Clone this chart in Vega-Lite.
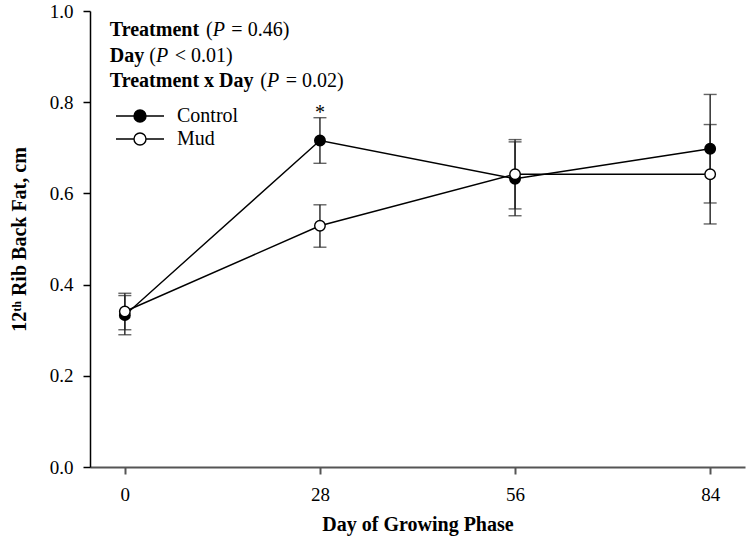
{
  "$schema": "https://vega.github.io/schema/vega-lite/v6.json",
  "width": 655,
  "height": 456,
  "autosize": {"type": "none"},
  "padding": {"left": 90, "top": 11, "right": 3, "bottom": 73},
  "background": "white",
  "config": {
    "view": {"stroke": null},
    "font": "Liberation Serif",
    "text": {"font": "Liberation Serif"},
    "axis": {
      "grid": false,
      "labelFont": "Liberation Serif",
      "labelFontSize": 19,
      "labelColor": "black",
      "titleFont": "Liberation Serif",
      "titleFontSize": 20,
      "titleFontWeight": "bold",
      "titleColor": "black",
      "tickSize": 7,
      "tickWidth": 1.5,
      "domainWidth": 1.5,
      "domainColor": "black",
      "tickColor": "black"
    }
  },
  "datasets": {
    "means": [
      {"group": "Control", "day": 0, "mean": 0.333, "lower": 0.290, "upper": 0.376},
      {"group": "Control", "day": 28, "mean": 0.716, "lower": 0.666, "upper": 0.766},
      {"group": "Control", "day": 56, "mean": 0.632, "lower": 0.551, "upper": 0.713},
      {"group": "Control", "day": 84, "mean": 0.698, "lower": 0.579, "upper": 0.817},
      {"group": "Mud", "day": 0, "mean": 0.341, "lower": 0.301, "upper": 0.381},
      {"group": "Mud", "day": 28, "mean": 0.529, "lower": 0.482, "upper": 0.575},
      {"group": "Mud", "day": 56, "mean": 0.642, "lower": 0.566, "upper": 0.718},
      {"group": "Mud", "day": 84, "mean": 0.642, "lower": 0.533, "upper": 0.751}
    ],
    "sig": [
      {"day": 28, "mean": 0.766, "label": "*"}
    ],
    "notes": [
      {"line": 1, "day": -2.15, "mean": 0.945, "bold": "Treatment", "rest": "= 0.46)"},
      {"line": 2, "day": -2.15, "mean": 0.889, "bold": "Day", "rest": "< 0.01)"},
      {"line": 3, "day": -2.15, "mean": 0.833, "bold": "Treatment x Day", "rest": "= 0.02)"}
    ]
  },
  "layer": [
    {
      "data": {"name": "means"},
      "mark": {
        "type": "errorbar",
        "ticks": {"size": 13, "thickness": 1.4, "color": "#222"},
        "rule": {"strokeWidth": 1.4, "color": "#222"}
      },
      "encoding": {
        "x": {
          "field": "day", "type": "quantitative",
          "scale": {"domain": [-5, 89], "nice": false, "zero": false},
          "axis": {"values": [0, 28, 56, 84], "format": "d", "labelPadding": 11, "domainColor": "#555", "tickColor": "#555", "domainWidth": 2, "tickWidth": 2, "titlePadding": 10},
          "title": "Day of Growing Phase"
        },
        "y": {
          "field": "lower", "type": "quantitative",
          "scale": {"domain": [0, 1], "nice": false},
          "axis": {"values": [0, 0.2, 0.4, 0.6, 0.8, 1.0], "format": ".1f", "labelPadding": 10, "titlePadding": 20},
          "title": "12ᵗʰ Rib Back Fat, cm"
        },
        "y2": {"field": "upper"},
        "detail": {"field": "group"}
      }
    },
    {
      "data": {"name": "means"},
      "mark": {"type": "line", "color": "black", "strokeWidth": 1.4},
      "encoding": {
        "x": {"field": "day", "type": "quantitative", "title": "Day of Growing Phase"},
        "y": {"field": "mean", "type": "quantitative", "title": "12ᵗʰ Rib Back Fat, cm"},
        "detail": {"field": "group"}
      }
    },
    {
      "data": {"name": "means"},
      "mark": {"type": "point", "shape": "circle", "size": 110, "stroke": "black", "strokeWidth": 1.4, "opacity": 1, "fillOpacity": 1},
      "encoding": {
        "x": {"field": "day", "type": "quantitative", "title": "Day of Growing Phase"},
        "y": {"field": "mean", "type": "quantitative", "title": "12ᵗʰ Rib Back Fat, cm"},
        "fill": {
          "field": "group", "type": "nominal",
          "scale": {"domain": ["Control", "Mud"], "range": ["black", "white"]},
          "legend": {
            "title": null,
            "orient": "none",
            "legendX": 40,
            "legendY": 95,
            "symbolType": "M-4,0L-1,0M1,0L4,0M1,0A1,1,0,1,1,-1,0A1,1,0,1,1,1,0Z",
            "symbolSize": 144,
            "symbolStrokeColor": "black",
            "symbolStrokeWidth": 1.4,
            "symbolOpacity": 1,
            "labelFont": "Liberation Serif",
            "labelFontSize": 20,
            "labelColor": "black",
            "labelOffset": 27,
            "rowPadding": 3,
            "padding": 0
          }
        }
      }
    },
    {
      "data": {"name": "sig"},
      "mark": {"type": "text", "fontSize": 20, "baseline": "alphabetic", "align": "center", "dy": 1, "color": "black", "font": "Liberation Serif"},
      "encoding": {
        "x": {"field": "day", "type": "quantitative", "title": "Day of Growing Phase"},
        "y": {"field": "mean", "type": "quantitative", "title": "12ᵗʰ Rib Back Fat, cm"},
        "text": {"field": "label"}
      }
    },
    {
      "data": {"name": "notes"},
      "mark": {"type": "text", "fontSize": 20, "fontWeight": "bold", "baseline": "alphabetic", "align": "left", "color": "black", "font": "Liberation Serif"},
      "encoding": {
        "x": {"field": "day", "type": "quantitative", "title": "Day of Growing Phase"},
        "y": {"field": "mean", "type": "quantitative", "title": "12ᵗʰ Rib Back Fat, cm"},
        "text": {"field": "bold"}
      }
    },
    {
      "data": {"name": "notes"},
      "mark": {"type": "text", "fontSize": 20, "baseline": "alphabetic", "align": "left", "color": "black", "font": "Liberation Serif",
        "dx": {"expr": "datum.line == 1 ? 96.1 : datum.line == 2 ? 39.4 : 150.5"}},
      "encoding": {
        "x": {"field": "day", "type": "quantitative", "title": "Day of Growing Phase"},
        "y": {"field": "mean", "type": "quantitative", "title": "12ᵗʰ Rib Back Fat, cm"},
        "text": {"value": "("}
      }
    },
    {
      "data": {"name": "notes"},
      "mark": {"type": "text", "fontSize": 20, "fontStyle": "italic", "baseline": "alphabetic", "align": "left", "color": "black", "font": "Liberation Serif",
        "dx": {"expr": "datum.line == 1 ? 102.8 : datum.line == 2 ? 46.1 : 157.2"}},
      "encoding": {
        "x": {"field": "day", "type": "quantitative", "title": "Day of Growing Phase"},
        "y": {"field": "mean", "type": "quantitative", "title": "12ᵗʰ Rib Back Fat, cm"},
        "text": {"value": "P"}
      }
    },
    {
      "data": {"name": "notes"},
      "mark": {"type": "text", "fontSize": 20, "baseline": "alphabetic", "align": "left", "color": "black", "font": "Liberation Serif",
        "dx": {"expr": "datum.line == 1 ? 121.5 : datum.line == 2 ? 64.8 : 175.9"}},
      "encoding": {
        "x": {"field": "day", "type": "quantitative", "title": "Day of Growing Phase"},
        "y": {"field": "mean", "type": "quantitative", "title": "12ᵗʰ Rib Back Fat, cm"},
        "text": {"field": "rest"}
      }
    }
  ]
}
